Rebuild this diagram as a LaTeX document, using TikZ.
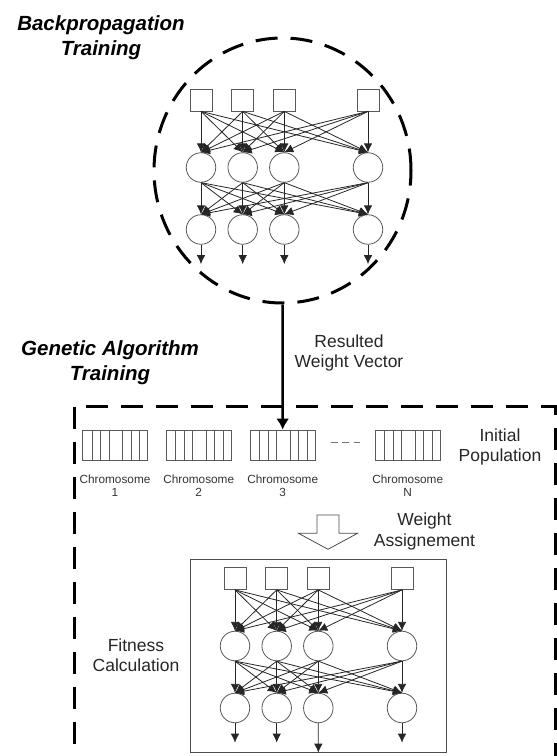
\documentclass[tikz,border=0pt]{standalone}
\usepackage{fontspec}
\setmainfont{Liberation Sans}
\usepackage{tikz}
\usetikzlibrary{shapes.geometric,arrows.meta,positioning}
\tikzstyle{title} = [font=\fontsize{20.5}{25}\selectfont\bfseries\itshape, align=center, inner sep=0]
\tikzstyle{note} = [font=\fontsize{17.5}{20.5}\selectfont, align=center, inner sep=0, text=black!85]
\tikzstyle{chromlabel} = [font=\fontsize{11.8}{12.6}\selectfont, align=center, inner sep=0, text=black!80]
\tikzstyle{dashedline} = [line width=3pt, dash pattern=on 22pt off 13pt]
\tikzstyle{unit} = [rectangle, draw=black!65, line width=0.8pt, minimum size=22pt, inner sep=0]
\tikzstyle{neuron} = [circle, draw=black!65, line width=0.8pt, minimum size=29.5pt, inner sep=0]
\tikzstyle{link} = [black!85, line width=0.8pt, -{Latex[length=9pt,width=8.5pt]}]
\tikzstyle{bigarrow} = [line width=2.5pt, -{Latex[length=11pt,width=13pt]}]
\tikzstyle{chrom} = [rectangle, draw=black!65, line width=0.8pt, minimum width=65pt, minimum height=30pt, inner sep=0,
  path picture={\foreach \k in {9.5,18,26.5,40,48.5,57}
    \draw [black!65, line width=0.8pt] ([xshift=\k pt]path picture bounding box.south west) -- ([xshift=\k pt]path picture bounding box.north west);}]
\tikzstyle{blockarrow} = [draw=black!70, line width=0.8pt, fill=white, line join=miter]

\begin{document}
\begin{tikzpicture}[x=1pt,y=-1pt]
\useasboundingbox (0,0) rectangle (557,756);
\clip (0,0) rectangle (557,756);

\node (bptitle) [title] at (101,37.7) {Backpropagation\\Training};
\node (bp) [ellipse, dashedline, draw, minimum width=257pt, minimum height=265pt, inner sep=0] at (282.5,170.5) {};

\node (gatitle) [title] at (110,362.7) {Genetic Algorithm\\Training};
\node (resulted) [note] at (349,353) {Resulted\\Weight Vector};
\draw [dashedline] (74,406.5) rectangle (555,800);

\node (chr1) [chrom] at (115,445) {};
\node (chr2) [chrom] at (198.7,445) {};
\node (chr3) [chrom] at (282.7,445) {};
\node (chrN) [chrom] at (407.7,445) {};
\node (lab1) [chromlabel, below=14.5pt of chr1] {Chromosome\\1};
\node (lab2) [chromlabel, below=14.5pt of chr2] {Chromosome\\2};
\node (lab3) [chromlabel, below=14.5pt of chr3] {Chromosome\\3};
\node (labN) [chromlabel, below=14.5pt of chrN] {Chromosome\\N};
\draw [black!55, line width=1pt, dash pattern=on 7pt off 4.5pt, shorten <=15pt, shorten >=15pt]
  ([yshift=2.5pt]chr3.east) -- ([yshift=2.5pt]chrN.west);
\node (initpop) [note] at (500,447) {Initial\\Population};

\draw [bigarrow] (bp.south) -- (chr3.north);

\draw [blockarrow] (317,515) -- (339,515) -- (339,533.3) -- (357.5,533.3) -- (328,549.3)
  -- (298.5,533.3) -- (317,533.3) -- cycle;
\node (weightassign) [note] at (424.5,531.5) {Weight\\Assignement};

\node (fitbox) [rectangle, draw=black!70, line width=0.8pt, minimum width=256.7pt, minimum height=193pt] at (318.35,655.8) {};
\node (fitness) [note] at (136,655) {Fitness\\Calculation};

\foreach \net/\dx/\dy in {bp/0/0, fit/34/478.5} {
  \foreach \i/\x in {1/201, 2/242.7, 3/284.3, 4/368} {
    \node (\net-in\i) [unit] at (\x+\dx,100+\dy) {};
    \node (\net-hid\i) [neuron] at (\x+\dx,167.5+\dy) {};
    \node (\net-out\i) [neuron] at (\x+\dx,229.5+\dy) {};
  }
  \foreach \i in {1,...,4}
    \foreach \j in {1,...,4} {
      \draw [link] (\net-in\i.south) -- (\net-hid\j.north);
      \draw [link] (\net-hid\i.south) -- (\net-out\j.north);
    }
  \foreach \i in {1,2,4}
    \draw [link] (\net-out\i.south) -- ++(0,19.5);
}
\draw [link] (bp-out3.south) -- ++(0,19.5);
\draw [link] (fit-out3.south) -- (fitbox.south);

\end{tikzpicture}
\end{document}
